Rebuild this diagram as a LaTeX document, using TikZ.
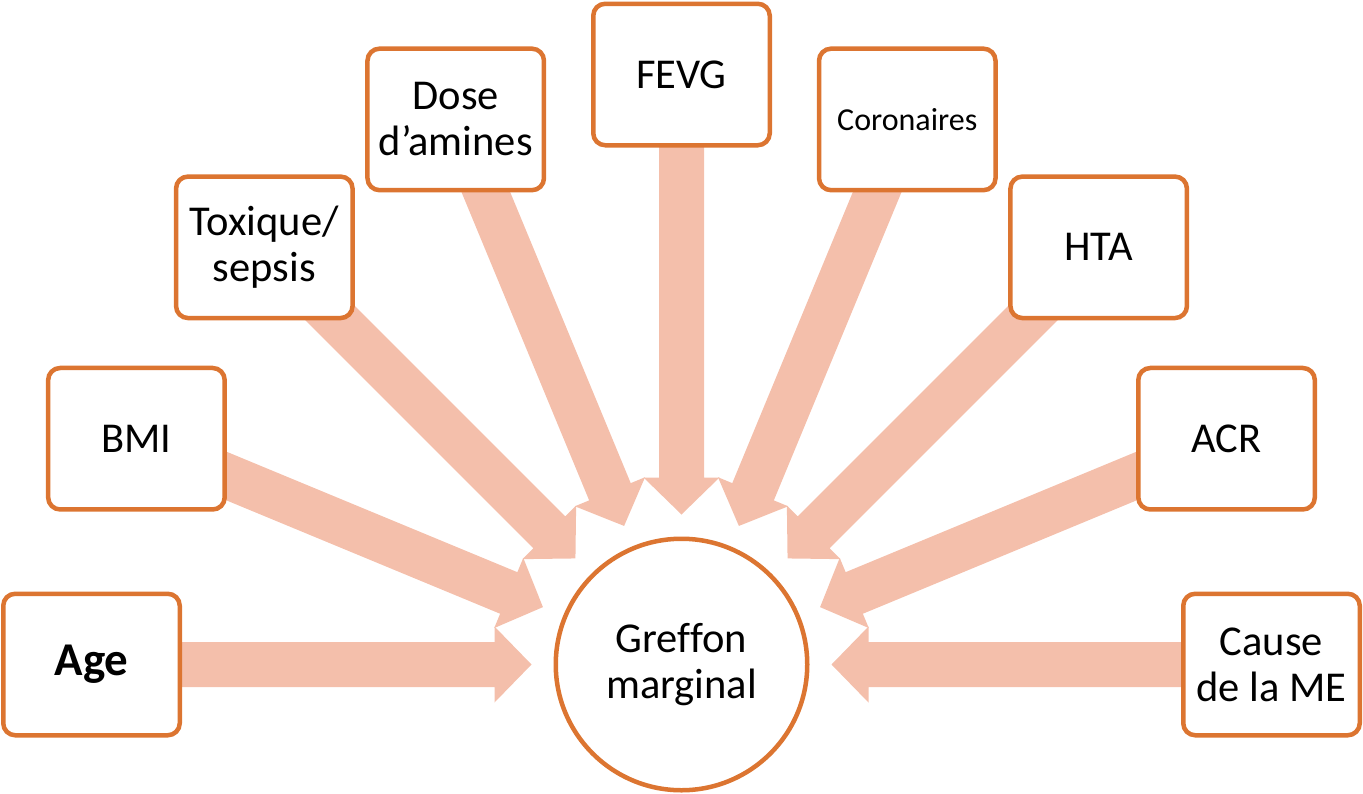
\documentclass[tikz,border=0pt]{standalone}
\usepackage{fontspec}
\setmainfont{Carlito}[Ligatures=NoCommon]
\usetikzlibrary{calc}

\definecolor{rim}{RGB}{220,117,49}
\definecolor{flow}{RGB}{244,191,171}

\pgfdeclarelayer{bg}
\pgfsetlayers{bg,main}

% wide block arrow from the centre of node #1 to the point #2
\newcommand{\blockarrow}[2]{%
  \coordinate (hb) at ($(#2)!37pt!(#1.center)$);
  \fill[flow] ($(#1.center)!22.5pt!90:(#2)$)
    -- ($(hb)!22.5pt!90:(#2)$) -- ($(hb)!38pt!90:(#2)$)
    -- (#2)
    -- ($(hb)!38pt!-90:(#2)$) -- ($(hb)!22.5pt!-90:(#2)$)
    -- ($(#1.center)!22.5pt!-90:(#2)$) -- cycle;}

\newcommand{\sz}[2]{\fontsize{#1pt}{#2pt}\selectfont}

\begin{document}
\begin{tikzpicture}[x=1pt,y=-1pt,
  label text/.style={font=\sz{42.5}{46}},
  factor/.style={draw=rim, line width=4.5pt, fill=white, rounded corners=12pt,
    minimum width=176.5pt, minimum height=141.5pt, align=center, inner sep=0pt,
    label text},
  hub/.style={circle, draw=rim, line width=4.5pt, fill=white,
    minimum size=251.5pt, align=center, inner sep=0pt, label text}]
  \useasboundingbox (0,0) rectangle (1363,793);

  \coordinate (C) at (681.5,664.5);
  \node[hub] (hub) at (C) {Greffon\\marginal};

  \node[factor, font=\sz{47}{54}\bfseries] (age) at ($(C)+(180:590pt)$) {Age};
  \node[factor] (bmi)  at ($(C)+(157.5:590pt)$) {BMI};
  \node[factor] (tox)  at ($(C)+(135:590pt)$)   {Toxique/\\sepsis};
  \node[factor] (dose) at ($(C)+(112.5:590pt)$) {Dose\\d’amines};
  \node[factor] (fevg) at ($(C)+(90:590pt)$)    {FEVG};
  \node[factor, font=\sz{32}{38}] (cor) at ($(C)+(67.5:590pt)$) {Coronaires};
  \node[factor] (hta)  at ($(C)+(45:590pt)$)    {HTA};
  \node[factor] (acr)  at ($(C)+(22.5:590pt)$)  {ACR};
  \node[factor] (me)   at ($(C)+(0:590pt)$)     {Cause\\de la ME};

  \begin{pgfonlayer}{bg}
    \foreach \n in {age,bmi,tox,dose,fevg,cor,hta,acr,me}{
      \coordinate (tip-\n) at ($(hub.center)!150pt!(\n.center)$);
      \blockarrow{\n}{tip-\n}
    }
  \end{pgfonlayer}
\end{tikzpicture}
\end{document}
